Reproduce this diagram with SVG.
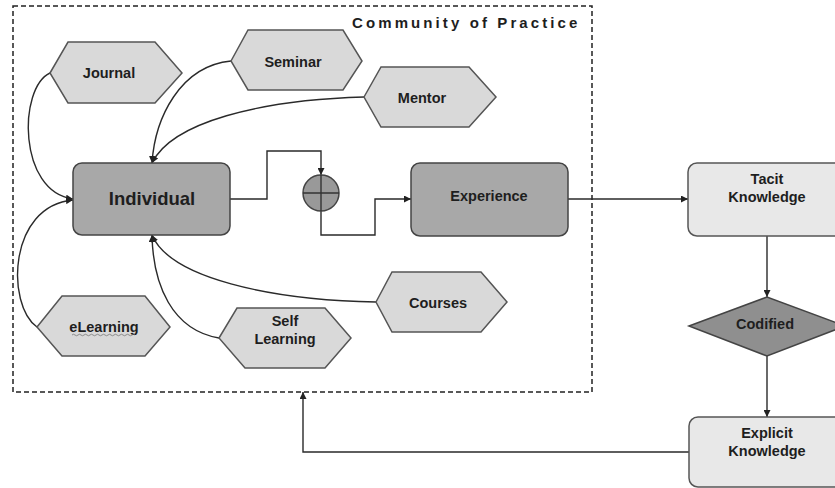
<svg xmlns="http://www.w3.org/2000/svg" width="835" height="488" viewBox="0 0 835 488">
  <defs>
    <marker id="arrow" viewBox="0 0 10 10" refX="10" refY="5" markerWidth="7" markerHeight="7" markerUnits="userSpaceOnUse" orient="auto">
      <path d="M0,0 L10,5 L0,10 z" fill="#222"/>
    </marker>
    <style>
      text { font-family: "Liberation Sans", Arial, sans-serif; font-weight: bold; fill: #1e1e1e; text-anchor: middle; }
      .hex { fill: #d9d9d9; stroke: #555; stroke-width: 1.5; }
      .dark { fill: #a8a8a8; stroke: #444; stroke-width: 1.5; }
      .light { fill: #e8e8e8; stroke: #555; stroke-width: 1.5; }
      .lbl { font-size: 14.5px; }
      .conn path, .conn polyline { fill: none; stroke: #2a2a2a; stroke-width: 1.4; }
    </style>
  </defs>
  <rect width="835" height="488" fill="#ffffff"/>

  <!-- community boundary -->
  <g id="community">
    <rect x="13" y="6" width="579" height="386" fill="none" stroke="#222" stroke-width="1.5" stroke-dasharray="5,3"/>
    <text x="352" y="28" style="font-size:15px;letter-spacing:3.1px;text-anchor:start">Community of Practice</text>
  </g>

  <!-- connectors -->
  <g id="connectors" class="conn">
    <path d="M50,73 C18,88 18,192 73,199" marker-end="url(#arrow)"/>
    <path d="M37,327 C6,305 8,206 73,200" marker-end="url(#arrow)"/>
    <path d="M231,61 C180,66 155,118 152,163" marker-end="url(#arrow)"/>
    <path d="M364,97 C260,100 172,122 152,163" marker-end="url(#arrow)"/>
    <path d="M219,338 C172,330 153,285 152,235" marker-end="url(#arrow)"/>
    <path d="M376,302 C270,300 170,278 152,235" marker-end="url(#arrow)"/>
    <polyline points="230,199 267,199 267,151 321,151 321,175" marker-end="url(#arrow)"/>
    <polyline points="321,211 321,235 375,235 375,199 411,199" marker-end="url(#arrow)"/>
    <polyline points="568,199 688,199" marker-end="url(#arrow)"/>
    <polyline points="767,236 767,297" marker-end="url(#arrow)"/>
    <polyline points="767,356 767,417" marker-end="url(#arrow)"/>
    <polyline points="689,452 303,452 303,392" marker-end="url(#arrow)"/>
  </g>

  <g id="journal">
    <polygon class="hex" points="50,73 68,42 155,42 182,73 155,103 68,103"/>
    <text class="lbl" x="109" y="78">Journal</text>
  </g>
  <g id="seminar">
    <polygon class="hex" points="231,61 248,30 343,30 362,61 343,90 248,90"/>
    <text class="lbl" x="293" y="67">Seminar</text>
  </g>
  <g id="mentor">
    <polygon class="hex" points="364,97 381,67 469,67 496,97 469,127 381,127"/>
    <text class="lbl" x="422" y="103">Mentor</text>
  </g>
  <g id="courses">
    <polygon class="hex" points="376,302 392,272 481,272 507,302 481,332 392,332"/>
    <text class="lbl" x="438" y="308">Courses</text>
  </g>
  <g id="self-learning">
    <polygon class="hex" points="219,338 237,308 325,308 351,338 325,368 245,368"/>
    <text class="lbl" x="285" y="326">Self</text>
    <text class="lbl" x="285" y="344">Learning</text>
  </g>
  <g id="elearning">
    <polygon class="hex" points="37,327 62,296 145,296 170,327 145,356 62,356"/>
    <text class="lbl" x="104" y="332">eLearning</text>
    <path d="M72,335 q1.5,-1.5 3,0 t3,0 t3,0 t3,0 t3,0 t3,0 t3,0 t3,0 t3,0 t3,0 t3,0 t3,0 t3,0 t3,0 t3,0 t3,0 t3,0 t3,0 t3,0 t3,0 t3,0" fill="none" stroke="#777" stroke-width="0.8"/>
  </g>

  <g id="individual">
    <rect class="dark" x="73" y="163" width="157" height="72" rx="9"/>
    <text x="152" y="205" style="font-size:18.5px">Individual</text>
  </g>
  <g id="combine">
    <circle cx="321" cy="193" r="18" fill="#999" stroke="#444" stroke-width="1.5"/>
    <line x1="303" y1="193" x2="339" y2="193" stroke="#333" stroke-width="1.4"/>
    <line x1="321" y1="175" x2="321" y2="211" stroke="#333" stroke-width="1.4"/>
  </g>
  <g id="experience">
    <rect class="dark" x="411" y="163" width="157" height="73" rx="9"/>
    <text class="lbl" x="489" y="201">Experience</text>
  </g>
  <g id="tacit">
    <rect class="light" x="688" y="163" width="160" height="73" rx="9"/>
    <text class="lbl" x="767" y="184">Tacit</text>
    <text class="lbl" x="767" y="202">Knowledge</text>
  </g>
  <g id="codified">
    <polygon points="689,326 767,297 845,326 767,356" fill="#8f8f8f" stroke="#444" stroke-width="1.5"/>
    <text class="lbl" x="765" y="329">Codified</text>
  </g>
  <g id="explicit">
    <rect class="light" x="689" y="417" width="160" height="70" rx="9"/>
    <text class="lbl" x="767" y="438">Explicit</text>
    <text class="lbl" x="767" y="456">Knowledge</text>
  </g>
</svg>
